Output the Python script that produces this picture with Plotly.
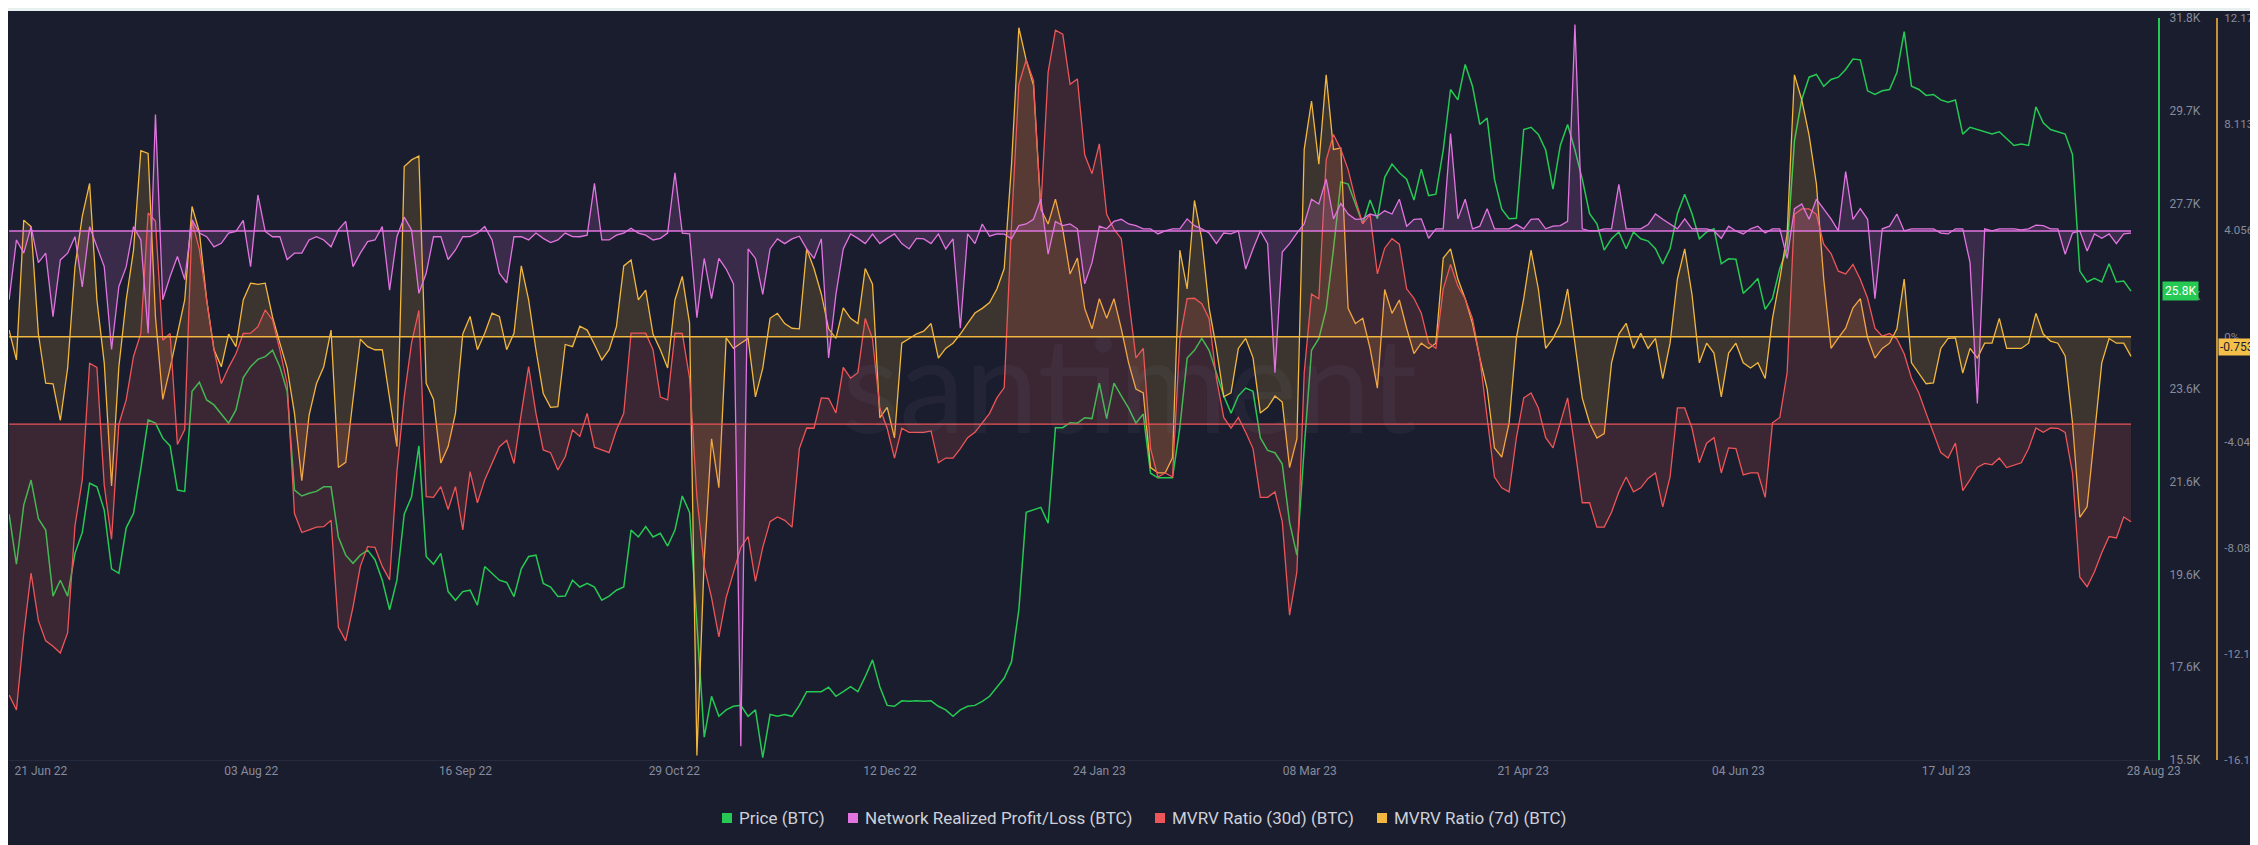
import pandas as pd
import plotly.graph_objects as go

# --------------------------------------------------
# Data (one value every 36 hours)
# --------------------------------------------------

dates = pd.date_range("2022-06-20", periods=291, freq="36h")

price_k = [
    20.9, 19.8, 21.1, 21.65, 20.8, 20.55, 19.1, 19.45, 19.1, 20.04, 20.5, 21.58, 21.5, 20.99, 19.7, 19.6, 20.6, 20.92, 21.9, 22.97,
    22.9, 22.57, 22.4, 21.43, 21.4, 23.6, 23.8, 23.41, 23.3, 23.1, 22.9, 23.19, 23.9, 24.14, 24.3, 24.36, 24.5, 24.14, 23.6, 21.43,
    21.3, 21.36, 21.4, 21.5, 21.5, 20.4, 20.0, 19.82, 20.0, 20.11, 19.9, 19.45, 18.8, 19.45, 20.9, 21.28, 22.4, 19.97, 19.8, 20.04,
    19.2, 19.01, 19.2, 19.23, 18.9, 19.75, 19.6, 19.45, 19.4, 19.09, 19.7, 19.97, 20.0, 19.38, 19.3, 19.09, 19.1, 19.45, 19.3, 19.38,
    19.3, 19.01, 19.1, 19.23, 19.3, 20.55, 20.4, 20.63, 20.4, 20.48, 20.2, 20.55, 21.3, 20.94, 18.5, 16.0, 16.9, 16.46, 16.6, 16.68,
    16.7, 16.46, 16.6, 15.55, 16.5, 16.46, 16.5, 16.46, 16.7, 17.0, 17.0, 17.0, 17.1, 16.9, 17.0, 17.11, 17.0, 17.33, 17.7, 17.11,
    16.7, 16.68, 16.8, 16.79, 16.8, 16.79, 16.8, 16.68, 16.6, 16.46, 16.6, 16.68, 16.7, 16.79, 16.9, 17.11, 17.3, 17.66, 18.8, 20.94,
    21.0, 21.05, 20.7, 22.8, 22.8, 22.91, 22.9, 23.02, 23.0, 23.78, 23.0, 23.78, 23.5, 23.23, 22.9, 23.1, 21.8, 21.7, 21.7, 21.7,
    22.8, 24.33, 24.5, 24.76, 24.5, 24.0, 23.5, 23.12, 23.5, 23.67, 23.6, 22.58, 22.3, 22.25, 22.0, 20.72, 20.0, 22.36, 24.5, 24.76,
    25.4, 26.73, 28.2, 28.15, 27.7, 27.28, 27.8, 27.39, 28.3, 28.59, 28.4, 28.26, 27.8, 28.48, 27.9, 27.93, 28.9, 30.23, 30.0, 30.78,
    30.3, 29.46, 29.6, 28.26, 27.6, 27.39, 27.4, 29.35, 29.4, 29.24, 28.9, 28.04, 29.0, 29.46, 28.9, 28.26, 27.5, 27.28, 26.7, 26.95,
    27.1, 26.73, 27.1, 26.95, 26.9, 26.73, 26.4, 26.73, 27.5, 27.93, 27.5, 26.95, 27.1, 27.17, 26.4, 26.51, 26.5, 25.75, 25.9, 26.08,
    25.4, 25.64, 26.3, 26.73, 29.1, 30.01, 30.5, 30.56, 30.3, 30.45, 30.5, 30.67, 30.9, 30.88, 30.2, 30.12, 30.2, 30.23, 30.6, 31.5,
    30.3, 30.23, 30.1, 30.12, 30.0, 29.95, 30.0, 29.25, 29.4, 29.35, 29.3, 29.25, 29.3, 29.14, 29.0, 29.03, 29.0, 29.85, 29.5, 29.35,
    29.3, 29.25, 28.8, 26.24, 26.0, 26.08, 26.0, 26.4, 26.0, 26.02,
    25.8,
]

# network realized profit/loss, thousand BTC
nrpl_k = [
    -6.5, -0.85, -2.1, 0.41, -3.0, -2.1, -8.1, -2.74, -2.1, -0.54, -5.3, 0.41, -1.5, -3.37, -11.2, -5.25, -3.4, 0.41, -0.85, -9.67,
    11.0, -6.5, -4.3, -2.42, -4.6, 1.04, -0.2, -0.54, -1.5, -1.17, -0.2, -0.05, 1.0, -3.37, 3.4, -0.05, -0.55, -0.54, -2.7, -2.1,
    -2.1, -0.85, -0.55, -0.85, -1.5, 0.1, 0.9, -3.37, -2.1, -1.0, -0.85, 0.41, -5.6, -0.54, 1.3, 0.1, -5.9, -4.0, -0.55, -0.54,
    -2.7, -1.8, -0.55, -0.54, -0.2, 0.41, -0.85, -4.0, -4.9, -0.54, -0.55, -0.85, -0.2, -0.7, -1.1, -0.85, -0.2, -0.54, -0.55, -0.4,
    4.5, -0.85, -0.85, -0.4, -0.2, 0.25, -0.2, -0.4, -0.85, -0.7, -0.2, 5.5, -0.2, -0.28, -8.2, -2.6, -6.4, -2.6, -3.6, -5.0,
    -48.7, -1.7, -2.6, -6.0, -1.7, -0.75, -1.2, -0.75, -0.5, -1.7, -2.6, -0.75, -12.0, -6.0, -1.7, -0.28, -0.7, -1.2, -0.3, -1.2,
    -0.7, -0.28, -1.2, -1.7, -0.7, -0.75, -1.2, -0.28, -1.7, -0.75, -9.2, -0.28, -1.2, 0.66, -0.5, -0.28, -0.3, -0.75, 0.5, 0.66,
    1.1, 3.0, -2.2, 0.9, 0.5, 0.66, 0.2, -5.0, -3.0, 0.45, 0.2, 0.9, 1.1, 0.66, 0.5, 0.2, 0.2, -0.28, 0.0, 0.2,
    0.2, 1.14, 0.5, 0.2, -0.2, -1.2, -0.2, -0.28, 0.0, -3.6, -1.7, 0.0, -1.2, -13.4, -2.0, -1.2, -0.2, 0.66, 3.0, 2.55,
    4.9, 1.14, 2.6, 1.6, 1.1, 1.14, 1.6, 1.4, 1.9, 1.6, 3.0, 0.45, 1.1, 1.14, -0.7, 0.2, 0.2, 9.2, 1.14, 3.0,
    0.2, 0.45, 2.1, 0.2, 0.2, 0.2, 0.6, 0.2, 1.1, 1.14, 0.2, 0.45, 0.5, 0.9, 19.5, 0.2, 0.0, 0.0, 0.2, 0.2,
    4.4, 0.2, 0.2, 0.2, 0.6, 1.6, 1.1, 0.66, 0.2, 1.14, 0.2, 0.2, 0.2, 0.0, -0.7, 0.45, 0.0, -0.28, 0.2, 0.45,
    -0.2, 0.2, 0.2, -2.6, 2.1, 2.55, 1.1, 3.0, 2.1, 1.14, 0.0, 5.6, 1.1, 2.1, 1.1, -6.4, 0.2, 0.45, 1.6, 0.0,
    0.2, 0.2, 0.2, 0.2, -0.2, -0.28, 0.2, 0.2, -3.0, -16.3, 0.2, 0.0, 0.2, 0.2, 0.2, 0.1, 0.2, 0.55, 0.5, 0.2,
    0.2, -2.2, -0.2, 0.0, -1.9, -0.28, -0.7, -0.28, -1.2, -0.28,
    -0.2,
]

mvrv_30d = [
    -20.0, -21.1, -15.5, -11.0, -14.5, -16.0, -16.4, -16.9, -15.4, -7.5, -4.1, 4.5, 4.2, -4.5, -8.5, 0.0, 1.8, 5.0, 6.7, 15.6,
    15.0, 6.2, 6.7, -1.5, -0.4, 15.0, 12.9, 9.0, 5.5, 3.0, 4.2, 5.2, 6.7, 6.72, 7.2, 8.44, 7.7, 5.5, 3.0, -6.6,
    -8.0, -7.8, -7.6, -7.57, -7.1, -15.0, -16.0, -13.5, -10.5, -9.04, -9.1, -10.5, -11.5, -3.5, 2.0, 6.0, 8.4, -5.35, -5.4, -4.61,
    -6.3, -4.61, -7.8, -3.5, -5.8, -4.12, -2.9, -1.66, -1.2, -2.9, 0.8, 4.25, 0.8, -1.9, -2.1, -3.38, -2.4, -0.43, -0.9, 0.8,
    -1.7, -1.9, -2.1, -0.43, 0.8, 6.72, 6.7, 6.72, 5.5, 2.0, 1.8, 6.72, 6.7, 3.4, -5.4, -10.5, -12.8, -15.7, -12.8, -10.9,
    -9.1, -8.3, -11.6, -9.1, -7.2, -6.85, -7.1, -7.6, -1.8, -0.28, -0.3, 1.94, 1.9, 0.83, 4.2, 3.4, 3.8, 7.8, 6.3, 1.2,
    -0.3, -2.5, -0.3, -0.6, -0.6, -0.6, -0.5, -2.85, -2.5, -2.5, -1.8, -1.0, -0.6, 0.1, 0.8, 1.94, 2.7, 14.8, 25.1, 26.9,
    25.4, 15.9, 26.0, 29.1, 28.8, 25.1, 25.5, 19.9, 18.5, 20.7, 15.5, 14.4, 13.7, 9.27, 4.9, 5.6, -1.8, -3.9, -3.6, -3.9,
    6.3, 9.27, 9.3, 8.9, 7.8, 3.4, 0.5, -0.28, 0.5, -0.6, -1.8, -5.4, -5.4, -5.0, -7.2, -14.1, -10.9, 3.8, 9.6, 9.27,
    19.5, 21.4, 20.3, 18.8, 16.6, 14.8, 15.5, 11.1, 13.0, 13.7, 13.3, 10.0, 9.3, 8.2, 6.0, 5.6, 10.0, 11.8, 10.2, 9.27,
    7.8, 4.9, 0.5, -3.9, -4.7, -5.0, -1.0, 1.94, 2.3, 1.2, -1.0, -1.75, 0.1, 1.94, -1.8, -5.8, -5.8, -7.6, -7.6, -6.5,
    -5.0, -3.9, -5.0, -4.7, -4.0, -3.6, -6.1, -3.9, 1.2, 1.2, -0.3, -2.85, -1.4, -1.0, -3.6, -1.75, -1.8, -3.75, -3.6, -3.6,
    -5.4, 0.1, 0.5, 3.8, 15.5, 15.9, 15.9, 15.5, 13.3, 12.6, 11.3, 11.1, 11.8, 10.7, 9.3, 7.1, 6.5, 6.7, 6.3, 5.2,
    3.4, 2.3, 0.8, -0.6, -2.1, -2.5, -1.4, -4.9, -4.1, -3.2, -2.9, -3.0, -2.5, -3.2, -3.0, -2.85, -1.8, -0.28, -0.6, -0.28,
    -0.3, -0.6, -3.6, -11.3, -12.0, -10.9, -9.5, -8.3, -8.4, -6.85,
    -7.2,
]

mvrv_7d = [
    0.25, -0.89, 4.45, 4.2, 0.1, -1.78, -1.8, -3.2, -1.2, 2.67, 4.6, 5.85, 1.4, -1.0, -5.7, -1.15, 1.4, 3.3, 7.1, 7.0,
    0.75, -2.4, -1.2, 0.13, 1.4, 4.97, 4.0, 1.4, -0.5, -1.15, 0.1, -0.38, 1.4, 2.04, 2.0, 2.04, 0.75, -0.25, -1.2, -2.93,
    -5.5, -3.0, -1.8, -1.15, 0.25, -5.0, -4.8, -2.4, -0.1, -0.38, -0.5, -0.5, -2.4, -4.2, 6.5, 6.75, 6.9, -1.78, -2.4, -4.83,
    -4.2, -2.93, 0.1, 0.77, -0.5, 0.13, 0.9, 0.77, -0.5, 0.13, 2.7, 1.4, -0.5, -2.17, -2.7, -2.67, -0.3, -0.38, 0.4, 0.25,
    -0.3, -0.89, -0.5, 0.38, 2.7, 2.93, 1.4, 1.78, 0.1, -0.5, -1.2, 1.4, 2.3, 0.51, -16.0, -8.5, -3.9, -5.77, -0.05, -0.45,
    -0.25, -0.07, -2.3, -1.2, 0.7, 0.89, 0.5, 0.32, 0.3, 3.35, 2.6, 1.63, 0.3, -0.07, 1.1, 0.7, 0.5, 2.6, 2.0, -3.1,
    -2.7, -3.87, -0.25, -0.07, 0.1, 0.21, 0.5, -0.82, -0.45, -0.25, 0.1, 0.51, 0.9, 1.08, 1.3, 1.82, 2.6, 6.59, 11.8, 10.57,
    9.6, 4.87, 4.3, 5.25, 4.1, 2.39, 3.0, 1.08, 0.3, 1.45, 0.7, 1.45, 0.3, -1.0, -2.0, -2.15, -5.0, -5.2, -5.2, -4.63,
    3.3, 1.82, 5.2, 3.73, 1.1, -0.45, -2.3, -2.15, -0.45, -0.07, -0.8, -2.92, -2.7, -2.27, -2.5, -5.0, -3.9, 7.15, 9.0, 6.59,
    10.0, 7.15, 7.2, 1.08, 0.5, 0.7, -0.45, -1.97, 1.8, 0.89, 1.4, 0.32, -0.65, -0.25, -0.45, -0.25, 3.0, 3.35, 2.2, 1.45,
    0.5, -0.82, -2.0, -4.25, -4.6, -3.3, -0.05, 1.45, 3.3, 1.82, -0.45, -0.07, 0.5, 1.82, -0.25, -2.35, -3.3, -3.87, -3.7, -1.0,
    0.1, 0.51, -0.45, 0.13, -0.45, -0.07, -1.6, -0.25, 2.2, 3.35, 1.6, -1.0, -0.25, -0.63, -2.3, -0.63, -0.25, -1.0, -1.2, -1.0,
    -1.6, 0.7, 2.2, 3.92, 10.0, 9.04, 7.7, 5.83, 2.2, -0.45, -0.05, 0.32, 1.1, 1.45, -0.05, -0.82, -0.45, -0.25, 0.3, 2.2,
    -1.0, -1.39, -1.8, -1.77, -0.45, -0.07, -0.05, -1.39, -0.45, -0.82, -0.25, -0.25, 0.7, -0.45, -0.45, -0.45, -0.25, 0.89, 0.1, -0.17,
    -0.25, -0.74, -3.3, -6.9, -6.5, -3.87, -1.0, -0.07, -0.25, -0.25,
    -0.753,
]

for series in (price_k, nrpl_k, mvrv_30d, mvrv_7d):
    assert len(series) == len(dates)

tick_dates = [
    "2022-06-21", "2022-08-03", "2022-09-16", "2022-10-29", "2022-12-12", "2023-01-24",
    "2023-03-08", "2023-04-21", "2023-06-04", "2023-07-17", "2023-08-28",
]
tick_labels = [
    "21 Jun 22", "03 Aug 22", "16 Sep 22", "29 Oct 22", "12 Dec 22", "24 Jan 23",
    "08 Mar 23", "21 Apr 23", "04 Jun 23", "17 Jul 23", "28 Aug 23",
]

price_ticks = [15.5, 17.5375, 19.575, 21.6125, 23.65, 25.6875, 27.725, 29.7625, 31.8]
price_tick_labels = ["15.5K", "17.6K", "19.6K", "21.6K", "23.6K", "25.7K", "27.7K", "29.7K", "31.8K"]

mvrv_ticks = [12.17, 8.113, 4.056, 0, -4.042, -8.084, -12.13, -16.17]
mvrv_tick_labels = ["12.17%", "8.113%", "4.056%", "0%", "-4.042%", "-8.084%", "-12.13%", "-16.17%"]

# --------------------------------------------------
# Style
# --------------------------------------------------

BG = "#1a1d2d"
GREEN = "#26c953"
PINK = "#e274e0"
RED = "#ee5558"
YELLOW = "#f2b73f"
TICK = "#868b9d"
FONT = "Roboto"


def px_x(px):
    # screen pixel -> paper x (plot area spans 9..2258)
    return (px - 9) / 2249


def px_y(py):
    # screen pixel -> paper y (plot area spans 18..760)
    return (760 - py) / 742


fig = go.Figure()

fig.add_trace(go.Scatter(
    x=dates, y=mvrv_30d, yaxis="y3", mode="lines", name="MVRV Ratio (30d) (BTC)",
    line=dict(color=RED, width=1.3),
    fill="tozeroy", fillcolor="rgba(238,85,88,0.16)",
    showlegend=False, hoverinfo="skip",
))

fig.add_trace(go.Scatter(
    x=dates, y=mvrv_7d, yaxis="y2", mode="lines", name="MVRV Ratio (7d) (BTC)",
    line=dict(color=YELLOW, width=1.3),
    fill="tozeroy", fillcolor="rgba(242,183,63,0.16)",
    showlegend=False, hoverinfo="skip",
))

fig.add_trace(go.Scatter(
    x=dates, y=nrpl_k, yaxis="y4", mode="lines", name="Network Realized Profit/Loss (BTC)",
    line=dict(color=PINK, width=1.3),
    fill="tozeroy", fillcolor="rgba(226,116,224,0.16)",
    showlegend=False, hoverinfo="skip",
))

fig.add_trace(go.Scatter(
    x=dates, y=price_k, yaxis="y", mode="lines", name="Price (BTC)",
    line=dict(color=GREEN, width=1.5),
    showlegend=False, hoverinfo="skip",
))

# zero baselines of the filled series
for axis, color, width in [("y3", RED, 1.2), ("y2", YELLOW, 1.5), ("y4", PINK, 1.5)]:
    fig.add_shape(
        type="line", xref="x", yref=axis,
        x0=dates[0], x1=dates[-1], y0=0, y1=0,
        line=dict(color=color, width=width),
    )

# --------------------------------------------------
# Legend row (square swatch + label)
# --------------------------------------------------

legend_items = [
    ("Price (BTC)", GREEN, 722),
    ("Network Realized Profit/Loss (BTC)", PINK, 848),
    ("MVRV Ratio (30d) (BTC)", RED, 1155),
    ("MVRV Ratio (7d) (BTC)", YELLOW, 1377),
]
legend_y = 818
for name, color, left in legend_items:
    fig.add_shape(
        type="rect", xref="paper", yref="paper",
        x0=px_x(left), x1=px_x(left + 10), y0=px_y(legend_y + 5), y1=px_y(legend_y - 5),
        fillcolor=color, line=dict(width=0),
    )
    fig.add_annotation(
        text=name, xref="paper", yref="paper", x=px_x(left + 15), y=px_y(legend_y),
        xanchor="left", yanchor="middle", showarrow=False,
        font=dict(family=FONT, size=17, color="#cdd0d8"),
    )

# thin light strip at the very top of the card
fig.add_shape(type="rect", xref="paper", yref="paper", x0=-0.01, x1=1.01, y0=1.0094, y1=1.02,
              fillcolor="#e8f0f0", line=dict(width=0), layer="above")

fig.add_annotation(
    text="santiment", xref="paper", yref="paper", x=0.498, y=0.51,
    showarrow=False, font=dict(family="Lato", size=132, color="rgba(150,150,200,0.07)"),
)

fig.add_annotation(
    text=f"{price_k[-1]:.1f}K", xref="paper", yref="y", x=0.9573, y=price_k[-1],
    xanchor="left", yanchor="middle", showarrow=False, bgcolor=GREEN, borderpad=2,
    font=dict(family=FONT, size=12, color="#ffffff"),
)
fig.add_annotation(
    text=f"{mvrv_7d[-1]:.3f}", xref="paper", yref="y2", x=0.9823, y=mvrv_7d[-1],
    xanchor="left", yanchor="bottom", showarrow=False, bgcolor="#f5c04a", borderpad=1,
    font=dict(family=FONT, size=12, color="#1a1d2d"),
)

fig.update_layout(
    width=2250,
    height=837,
    margin=dict(l=1, r=0, t=10, b=85, autoexpand=False),
    paper_bgcolor=BG,
    plot_bgcolor=BG,
    showlegend=False,
    font=dict(family=FONT, color=TICK),
    xaxis=dict(
        type="date",
        domain=[0, 0.95554],
        range=["2022-06-19 23:25", "2023-09-03 12:45"],
        tickvals=tick_dates,
        ticktext=tick_labels,
        ticklabelposition="outside right",
        tickfont=dict(size=12, color=TICK),
        showgrid=False,
        zeroline=False,
        showline=True,
        linecolor="#262a3c",
        ticks="",
        automargin=False,
    ),
    yaxis=dict(
        range=[15.5, 31.8],
        side="right",
        anchor="x",
        tickvals=price_ticks,
        ticktext=price_tick_labels,
        tickfont=dict(size=12, color=TICK),
        ticklabelstandoff=7,
        showgrid=False,
        zeroline=False,
        showline=True,
        linecolor=GREEN,
        linewidth=2,
        ticks="",
        automargin=False,
    ),
    yaxis2=dict(
        range=[-16.17, 12.17],
        overlaying="y",
        side="right",
        anchor="free",
        position=0.98177,
        tickvals=mvrv_ticks,
        ticktext=mvrv_tick_labels,
        tickfont=dict(size=11.5, color=TICK),
        ticklabelstandoff=4,
        showgrid=False,
        zeroline=False,
        showline=True,
        linecolor="#c39238",
        linewidth=2,
        ticks="",
        automargin=False,
    ),
    yaxis3=dict(range=[-24.8, 30], overlaying="y", visible=False, automargin=False),
    yaxis4=dict(range=[-50, 20.125], overlaying="y", visible=False, automargin=False),
)

fig.write_html("out.html")
